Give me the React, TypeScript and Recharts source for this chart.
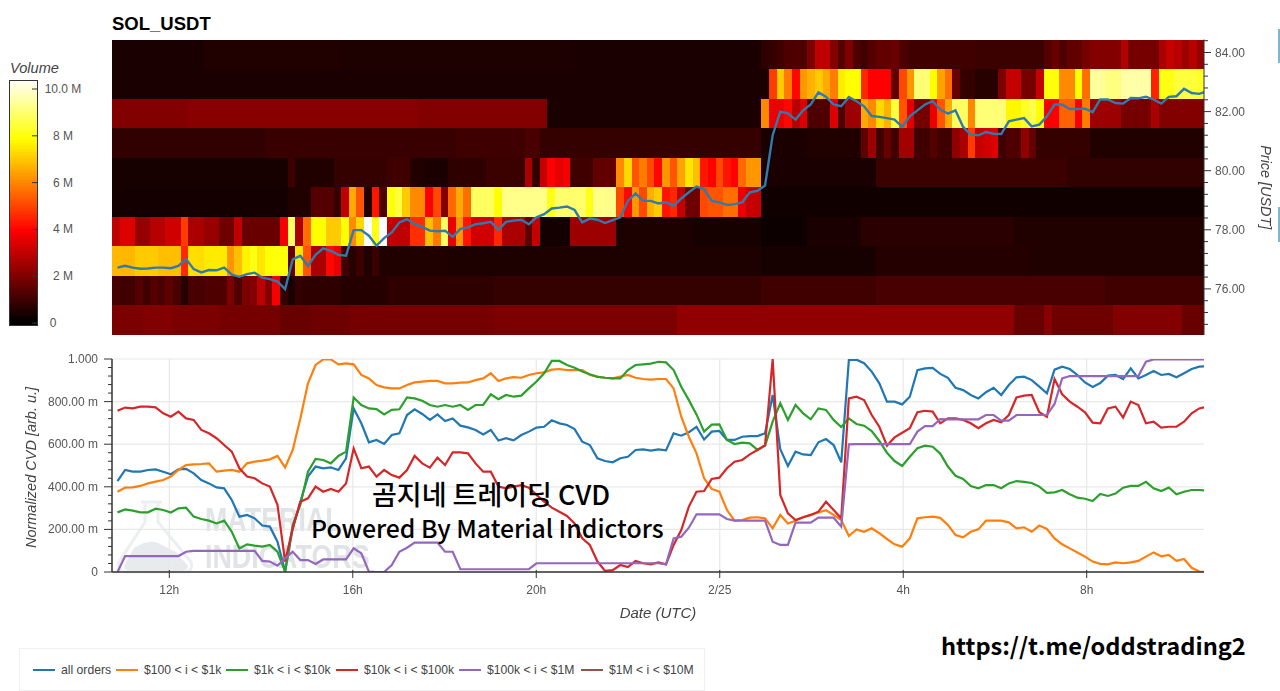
import React from 'react';
import { ComposedChart, Line, XAxis, YAxis, CartesianGrid, ReferenceArea } from 'recharts';

// ---------- time grid (hours from 2/24 00:00) ----------
const xMin = 10.751, xMax = 34.557;
const lineStart = 10.871, lineStep = 0.16608;
const heatStep = 0.16656;
const xTicks = [12, 16, 20, 24, 28, 32];
const xTickLabels = ['12h', '16h', '20h', '2/25', '4h', '8h'];

// ---------- price ----------
const prices = [
  76.72,76.78,76.72,76.68,76.69,76.72,76.72,76.70,76.78,77.01,76.67,76.56,76.64,76.63,76.72,76.48,76.41,76.50,76.55,76.38,76.33,76.25,75.99,77.00,77.12,76.78,77.15,77.37,77.29,77.15,77.12,77.99,77.99,77.80,77.46,77.72,
  77.91,78.25,78.36,78.19,78.10,77.97,77.95,77.97,77.76,78.03,78.08,78.19,78.22,78.27,78.00,78.27,78.31,78.34,78.19,78.42,78.53,78.72,78.75,78.79,78.67,78.25,78.38,78.34,78.23,78.33,78.42,78.98,79.23,78.98,78.98,
  78.89,78.93,78.81,79.06,79.27,79.46,79.38,78.98,78.93,78.84,78.87,78.93,79.27,79.32,79.50,81.20,82.00,81.94,81.73,82.04,82.24,82.65,82.50,82.24,82.18,82.49,82.35,82.18,81.85,81.82,81.78,81.73,81.48,81.84,82.04,82.24,
  82.35,82.07,81.93,82.04,81.48,81.22,81.20,81.31,81.25,81.24,81.67,81.73,81.78,81.50,81.56,81.84,82.24,82.24,82.09,82.09,82.10,81.98,82.41,82.41,82.29,82.27,82.46,82.45,82.50,82.41,82.27,82.50,82.52,82.77,82.63,82.60,82.69,
];
const priceMajor = [76, 78, 80, 82, 84];
const priceTicks = [74.8,75.2,75.6,76,76.4,76.8,77.2,77.6,78,78.4,78.8,79.2,79.6,80,80.4,80.8,81.2,81.6,82,82.4,82.8,83.2,83.6,84,84.4];

// ---------- heat map: price bin lower edges, and per bin [column, volume in M, column, volume, ...] ----------
const binEdges = [74.44,75.44,76.44,77.44,78.44,79.44,80.44,81.44,82.44,83.44,84.44];
const heat0 = [0,1.9,4,2.0,8,1.9,14,1.8,22,1.6,26,1.7,31,1.8,50,1.9,74,2.2,118,1.6,122,2.1,123,1.7,131,2.0,140,1.6];
const heat1 = [0,1.1,1,1.0,3,1.3,4,1.0,5,1.3,6,1.1,7,1.4,8,1.1,9,0.6,10,1.1,12,1.2,15,1.9,16,1.2,17,1.9,18,2.0,19,2.9,20,2.0,21,3.8,22,0.8,23,0.4,24,0.8,25,0.7,30,0.55,36,0.7,50,0.8,85,1.0,100,1.1,130,1.0];
const heat2 = [0,6.7,3,7.0,6,6.8,9,4.5,10,7.3,12,7.5,15,6.2,16,6.8,17,7.6,18,8.0,19,7.4,20,7.8,21,7.9,23,1.5,24,7.4,25,5.2,26,2.6,28,4.0,29,3.6,30,1.0,31,0.6,32,0.9,33,0.5,34,0.9,35,0.5,36,0.5,44,0.45,85,0.35,100,0.55,120,0.5];
const heat3 = [0,2.9,1,3.4,3,2.3,5,2.8,7,3.2,9,4.8,10,2.6,12,2.3,14,1.7,16,2.9,17,1.6,22,3.8,23,8.8,24,2.6,25,5.6,26,7.8,28,7.0,30,7.8,31,6.0,32,7.2,33,10.4,34,8.0,35,10.4,36,3.0,37,2.9,39,4.6,41,6.8,42,5.8,43,8.8,44,3.6,45,6.2,46,4.2,47,3.2,50,4.5,51,2.6,54,1.4,55,3.0,56,0.3,60,2.4,66,0.45,76,0.35,85,0.2,91,0.4,98,0.65,118,0.5];
const heat4 = [0,0.3,23,0.5,26,1.3,29,0.8,30,2.9,31,6.5,32,5.2,33,0.5,34,4.2,35,1.2,36,7.9,37,8.4,38,7.0,39,6.0,41,3.9,42,5.0,43,2.0,44,5.5,45,6.5,46,5.6,47,8.8,50,7.8,51,9.2,57,8.0,58,8.9,62,8.0,63,9.2,66,5.0,67,4.0,68,6.2,69,5.0,70,6.6,71,7.0,72,4.2,73,4.5,74,3.0,75,1.7,77,5.0,78,5.2,80,5.6,82,3.6,83,3.0,85,0.25];
const heat5 = [0,0.35,23,0.9,24,0.5,29,0.8,36,1.0,39,0.5,41,0.4,44,0.7,49,0.9,54,2.6,55,0.8,56,3.0,57,3.9,58,3.5,59,3.8,60,1.0,63,1.5,66,6.0,67,7.2,68,5.2,69,5.8,70,5.0,71,4.0,72,6.2,73,5.2,74,6.4,75,7.4,76,6.8,77,4.2,78,3.9,79,5.0,80,4.2,81,3.9,82,5.5,83,6.2,85,0.4,100,0.9,125,0.75];
const heat6 = [0,0.75,20,0.85,45,0.95,54,1.1,56,0.8,85,0.4,91,0.5,98,1.5,99,2.4,100,1.0,101,1.6,102,1.0,103,2.5,105,1.0,107,1.3,108,1.0,110,2.2,111,2.6,112,4.8,113,3.0,114,3.2,115,3.4,116,1.0,117,1.2,119,2.2,120,1.5,121,0.8,128,0.5];
const heat7 = [0,2.0,10,2.1,40,2.0,57,0.4,85,6.0,86,3.6,88,4.0,89,2.8,90,3.4,91,1.2,94,3.4,95,1.2,96,2.4,98,6.5,99,6.0,100,7.2,101,6.6,102,8.4,103,5.2,104,3.5,105,1.8,107,3.6,108,5.2,109,6.5,110,8.8,112,6.0,113,9.0,117,7.7,119,8.2,120,8.6,121,7.8,122,3.8,123,3.9,124,5.4,126,3.8,127,5.8,128,2.4,132,1.8,136,2.6,137,2.0];
const heat8 = [0,0.4,86,4.8,87,7.0,88,5.8,89,4.0,90,6.2,91,6.6,92,7.0,93,6.5,94,5.8,95,7.5,96,7.8,98,4.5,99,3.9,102,1.5,103,5.0,104,6.2,105,9.0,107,7.8,108,6.4,109,5.6,110,1.6,111,0.8,113,0.6,116,1.9,117,3.0,119,1.8,121,3.0,122,7.9,124,6.0,126,7.8,127,5.6,128,9.4,130,9.1,132,9.5,136,4.4,137,8.0,139,8.4,142,8.2];
const heat9 = [0,0.4,12,0.5,30,0.45,60,0.4,85,0.7,86,0.8,87,1.0,88,1.2,91,1.9,92,2.9,94,2.0,95,1.3,96,1.9,97,1.2,98,1.0,99,1.3,100,1.5,102,1.6,103,1.2,104,1.0,113,0.9,122,1.3,123,1.6,124,1.2,125,1.5,127,1.8,128,2.0,132,2.7,133,1.8,137,2.6,138,3.0,139,2.8,140,2.4,141,2.8,142,2.3];
const heatBins = [heat0, heat1, heat2, heat3, heat4, heat5, heat6, heat7, heat8, heat9];
const heatColumns = 143;

// ---------- colour bar ----------
const barMin = -0.085, barMax = 10.385;
const barTicks = [0, 2, 4, 6, 8, 10];
const barTickLabels = ['0', '2 M', '4 M', '6 M', '8 M', '10.0 M'];
const barSteps = Array.from({ length: 105 }, (_, k) => k / 10);
const barRows = [{ x: 0 }, { x: 1 }];

// ---------- CVD (milli units) ----------
const allOrders = [
  427,479,471,471,479,482,471,459,482,484,463,432,416,397,393,338,260,268,252,218,213,142,2,205,330,448,495,487,491,479,534,768,698,609,620,601,
  643,651,737,764,742,714,740,709,721,687,679,667,646,667,617,628,618,643,659,678,682,712,698,690,671,612,596,534,521,515,534,541,573,576,570,
  576,571,651,640,656,681,622,659,662,620,620,635,638,638,651,831,576,498,565,552,549,609,624,596,515,995,997,980,941,886,800,800,787,823,948,956,
  958,930,912,865,854,831,815,844,865,831,878,914,917,901,870,839,950,964,953,925,890,869,887,922,925,906,956,909,925,944,925,930,914,933,953,964,967,
];
const from100 = [
  377,396,397,404,416,424,432,448,479,502,505,507,510,471,476,479,471,510,518,523,529,545,491,573,721,886,972,998,998,975,979,975,925,909,878,867,
  862,862,878,890,894,897,897,886,886,889,890,901,909,933,897,909,915,912,925,933,937,950,953,948,948,948,925,917,912,909,917,925,912,906,903,
  906,906,862,729,635,557,440,390,377,291,241,244,255,257,252,205,268,228,241,257,268,279,290,268,244,169,200,189,205,182,155,130,119,158,252,257,
  260,254,221,174,163,189,200,241,241,241,233,205,210,189,218,202,158,130,111,92,72,49,38,36,45,41,45,52,72,92,74,80,52,61,20,2,0,
];
const from1k = [
  280,294,288,280,280,297,291,279,299,302,260,249,241,228,241,189,111,130,124,119,127,95,2,221,315,471,531,526,510,545,565,819,784,768,765,740,
  761,764,820,815,804,784,776,784,776,784,761,784,784,834,811,831,823,828,862,894,933,991,991,972,959,941,928,916,912,909,909,948,972,975,978,
  987,984,948,870,807,740,659,692,693,620,601,607,604,573,593,706,792,714,784,745,717,768,761,714,681,721,695,687,662,615,560,521,498,541,581,593,
  588,556,495,452,437,404,393,408,408,393,416,427,423,418,401,372,374,385,365,349,344,333,366,357,368,396,404,404,423,393,380,397,365,377,385,385,382,
];
const from10k = [
  757,772,768,776,776,773,745,729,753,721,714,667,651,628,596,565,487,448,440,416,401,315,49,205,330,346,401,377,390,377,416,580,487,495,448,479,
  455,443,479,545,510,490,537,502,562,562,557,510,471,471,401,393,401,408,396,362,330,302,283,263,228,158,127,49,5,9,33,23,52,41,36,
  45,36,127,197,307,377,380,437,443,487,518,526,552,573,596,1000,362,275,244,257,268,283,330,291,252,815,823,807,737,682,593,632,654,675,750,757,
  753,698,721,721,714,698,675,698,714,703,737,819,828,831,750,729,906,834,800,776,750,701,698,768,776,725,800,784,698,706,678,682,682,706,745,768,776,
];
const from100k = [
  0,75,75,75,75,75,75,75,75,95,99,99,99,99,99,99,99,99,99,52,49,30,64,95,56,56,38,59,59,59,59,111,88,2,0,0,
  33,95,114,138,138,138,138,95,95,13,13,13,13,13,13,13,13,13,13,41,41,41,41,41,41,41,41,41,41,41,41,41,41,41,41,
  41,36,158,166,208,271,271,271,271,249,241,241,241,241,241,142,127,127,232,232,232,255,255,255,213,599,600,600,600,600,600,600,600,600,659,685,
  685,718,717,717,717,717,717,737,737,711,711,737,737,737,737,737,789,909,920,920,920,920,920,920,920,920,920,920,987,998,998,998,998,998,998,998,998,
];
const seriesNames = ['all orders', '$100 < i < $1k', '$1k < i < $10k', '$10k < i < $100k', '$100k < i < $1M', '$1M < i < $10M'];
const seriesColors = ['#1f77b4', '#ff7f0e', '#2ca02c', '#d62728', '#9467bd', '#8c564b'];
const seriesValues = [allOrders, from100, from1k, from10k, from100k];
const cvdMajor = [0, 200, 400, 600, 800, 1000];
const cvdMajorLabels = ['0', '200.00 m', '400.00 m', '600.00 m', '800.00 m', '1.000'];
const cvdTicks = Array.from({ length: 26 }, (_, k) => k * 40);

// ---------- helpers ----------
const FONT = '"Liberation Sans", Arial, sans-serif';
const TEXT = '#555';
const AXIS = '#333';

function hot(v: number) {
  const t = Math.min(Math.max(v / 10.4, 0), 1);
  const c = (x: number) => Math.round(255 * Math.min(Math.max(x, 0), 1));
  return `rgb(${c(t / 0.375)},${c((t - 0.375) / 0.375)},${c((t - 0.75) / 0.25)})`;
}

const lineRows = allOrders.map((_, i) => ({
  t: lineStart + i * lineStep,
  price: prices[i],
  s0: allOrders[i], s1: from100[i], s2: from1k[i], s3: from10k[i], s4: from100k[i],
}));

function heatCells() {
  const out: any[] = [];
  heatBins.forEach((bin, b) => {
    for (let k = 0; k < bin.length; k += 2) {
      const c0 = bin[k];
      const c1 = k + 2 < bin.length ? bin[k + 2] : heatColumns;
      out.push(
        <ReferenceArea
          key={`${b}-${k}`}
          x1={xMin + c0 * heatStep}
          x2={Math.min(xMin + c1 * heatStep, xMax)}
          y1={binEdges[b]}
          y2={binEdges[b + 1]}
          fill={hot(bin[k + 1])}
          fillOpacity={1}
          stroke="none"
          ifOverflow="visible"
        />,
      );
    }
  });
  return out;
}

const PriceTick = (p: any) => {
  const major = priceMajor.includes(p.payload.value);
  return (
    <g>
      <line x1={p.x} x2={p.x + (major ? 7 : 4)} y1={p.y} y2={p.y} stroke={AXIS} />
      {major && (
        <text x={p.x + 11} y={p.y + 4} fontSize={12} fill={TEXT} fontFamily={FONT}>
          {p.payload.value.toFixed(2)}
        </text>
      )}
    </g>
  );
};

const CvdTick = (p: any) => {
  const idx = cvdMajor.indexOf(p.payload.value);
  const major = idx >= 0;
  return (
    <g>
      <line x1={p.x} x2={p.x - (major ? 8 : 4)} y1={p.y} y2={p.y} stroke={AXIS} />
      {major && (
        <text x={p.x - 14} y={p.y + 4} fontSize={12} fill={TEXT} textAnchor="end" fontFamily={FONT}>
          {cvdMajorLabels[idx]}
        </text>
      )}
    </g>
  );
};

const TimeTick = (p: any) => (
  <g>
    <line x1={p.x} x2={p.x} y1={p.y - 2} y2={p.y + 6} stroke={AXIS} />
    <text x={p.x} y={p.y + 22} fontSize={12} fill={TEXT} textAnchor="middle" fontFamily={FONT}>
      {xTickLabels[xTicks.indexOf(p.payload.value)]}
    </text>
  </g>
);

const BarTick = (p: any) => {
  const i = barTicks.indexOf(p.payload.value);
  return (
    <g>
      <line x1={p.x - 5} x2={p.x} y1={p.y} y2={p.y} stroke={AXIS} />
      <text x={i === 0 ? p.x + 16 : p.x + 26} y={p.y + 4} fontSize={12} fill={TEXT} textAnchor="middle" fontFamily={FONT}>
        {barTickLabels[i]}
      </text>
    </g>
  );
};

const abs = (s: React.CSSProperties): React.CSSProperties => ({ position: 'absolute', ...s });

function Watermark() {
  const word = (top: number): React.CSSProperties =>
    abs({ left: 205, top, fontFamily: FONT, fontWeight: 700, fontSize: 34, color: '#e0e4e7', lineHeight: '36px', transform: 'scaleX(0.79)', transformOrigin: 'left center' });
  return (
    <div style={abs({ left: 0, top: 0, width: 1280, height: 691, pointerEvents: 'none' })}>
      <svg width={1280} height={691} style={abs({ left: 0, top: 0 })}>
        <path d="M141 502 H162 M145 502 V522 L119 562 Q116 572 128 572 H183 Q194 572 191 562 L158 522 V502" fill="none" stroke="#eceff1" strokeWidth={3} />
        <path d="M124 566 L134 548 Q150 538 160 544 L176 552 L188 566 Q188 571 180 571 H130 Q124 571 124 566 Z" fill="#e7ebed" />
      </svg>
      <div style={word(501)}>MATERIAL</div>
      <div style={word(538)}>INDICATORS</div>
    </div>
  );
}

function LegendBox() {
  const offsets = [32, 115, 225, 335, 458, 580];
  return (
    <div style={abs({ left: 19, top: 648, width: 686, height: 43, border: '1px solid #f0f0f0', boxSizing: 'border-box' })}>
      {seriesNames.map((name, i) => (
        <React.Fragment key={name}>
          <div style={abs({ left: offsets[i] - 19, top: 20, width: 22, height: 2, background: seriesColors[i] })} />
          <div style={abs({ left: offsets[i] - 19 + 28, top: 14, fontFamily: FONT, fontSize: 12.2, lineHeight: '14px', color: '#444', whiteSpace: 'nowrap' })}>{name}</div>
        </React.Fragment>
      ))}
    </div>
  );
}

export default function App() {
  return (
    <div style={abs({ left: 0, top: 0, width: 1280, height: 691, overflow: 'hidden', background: '#fff', fontFamily: FONT })}>
      <style>{`.recharts-reference-area-rect{shape-rendering:crispEdges}`}</style>
      <Watermark />

      <div style={abs({ left: 112, top: 13, fontSize: 18.5, fontWeight: 700, color: '#000', lineHeight: '21px' })}>SOL_USDT</div>
      <div style={abs({ left: 10, top: 60, fontSize: 14.6, fontStyle: 'italic', color: '#444', lineHeight: '16px' })}>Volume</div>

      {/* colour bar */}
      <div style={abs({ left: 0, top: 70 })}>
        <ComposedChart width={100} height={260} data={barRows} margin={{ top: 10, right: 0, bottom: 5, left: 9 }}>
          <XAxis type="number" dataKey="x" domain={[0, 1]} hide />
          <YAxis
            orientation="right"
            type="number"
            width={63}
            domain={[barMin, barMax]}
            allowDataOverflow
            ticks={barTicks}
            interval={0}
            tickSize={0}
            tickMargin={0}
            tickLine={false}
            axisLine={false}
            tick={BarTick}
          />
          <ReferenceArea x1={0} x2={1} y1={barMin} y2={0.05} fill="#000" fillOpacity={1} stroke="none" ifOverflow="visible" />
          {barSteps.map((v) => (
            <ReferenceArea key={v} x1={0} x2={1} y1={v} y2={Math.min(v + 0.1, barMax)} fill={hot(v)} fillOpacity={1} stroke="none" ifOverflow="visible" />
          ))}
          <ReferenceArea x1={0} x2={1} y1={barMin} y2={barMax} fill="none" stroke={AXIS} strokeWidth={1} ifOverflow="visible" />
        </ComposedChart>
      </div>

      {/* heat map + price */}
      <div style={abs({ left: 0, top: 0, filter: 'blur(0.4px)' })}>
        <ComposedChart width={1280} height={340} data={lineRows} margin={{ top: 39.5, right: 0, bottom: 5, left: 112 }}>
          <XAxis type="number" dataKey="t" domain={[xMin, xMax]} allowDataOverflow hide />
          <YAxis
            orientation="right"
            type="number"
            width={76}
            domain={[binEdges[0], binEdges[10]]}
            allowDataOverflow
            ticks={priceTicks}
            interval={0}
            tickSize={0}
            tickMargin={0}
            tickLine={false}
            axisLine={{ stroke: AXIS }}
            tick={PriceTick}
            label={{ value: 'Price [USDT]', angle: 90, position: 'center', dx: 24, style: { fontSize: 14.4, fontStyle: 'italic', fill: '#444', fontFamily: FONT } }}
          />
          {heatCells()}
          <Line dataKey="price" type="linear" stroke="#2f7bad" strokeWidth={2.4} dot={false} isAnimationActive={false} />
        </ComposedChart>
      </div>

      {/* CVD */}
      <div style={abs({ left: 0, top: 345, filter: 'blur(0.3px)' })}>
        <ComposedChart width={1280} height={287} data={lineRows} margin={{ top: 14, right: 76, bottom: 10, left: 0 }}>
          <CartesianGrid stroke="#e8e8e8" strokeWidth={1.2} horizontalValues={cvdMajor} verticalValues={xTicks} />
          <XAxis
            type="number"
            dataKey="t"
            domain={[xMin, xMax]}
            allowDataOverflow
            ticks={xTicks}
            interval={0}
            height={50}
            tickSize={0}
            tickMargin={0}
            tickLine={false}
            axisLine={{ stroke: AXIS, strokeWidth: 1.5 }}
            tick={TimeTick}
            label={{ value: 'Date (UTC)', position: 'center', dy: 16, style: { fontSize: 15, fontStyle: 'italic', fill: '#444', fontFamily: FONT } }}
          />
          <YAxis
            type="number"
            width={112}
            domain={[0, 1000]}
            allowDataOverflow
            ticks={cvdTicks}
            interval={0}
            tickSize={0}
            tickMargin={0}
            tickLine={false}
            axisLine={{ stroke: AXIS, strokeWidth: 1.5 }}
            tick={CvdTick}
            label={{ value: 'Normalized CVD [arb. u.]', angle: -90, position: 'center', dx: -25, dy: 2, style: { fontSize: 14.5, fontStyle: 'italic', fill: '#444', fontFamily: FONT } }}
          />
          {seriesValues.map((_, i) => (
            <Line key={i} dataKey={`s${i}`} name={seriesNames[i]} type="linear" stroke={seriesColors[i]} strokeWidth={2.2} dot={false} isAnimationActive={false} />
          ))}
        </ComposedChart>
      </div>

      <LegendBox />

      <div style={abs({ left: 372, top: 476, fontFamily: '"Noto Sans CJK KR"', fontWeight: 500, fontSize: 27, color: '#000', lineHeight: '36px', whiteSpace: 'pre' })}>곰지네 트레이딩 CVD</div>
      <div style={abs({ left: 311, top: 509, fontFamily: '"Noto Sans CJK KR"', fontWeight: 500, fontSize: 24.8, color: '#000', lineHeight: '36px', whiteSpace: 'pre' })}>Powered By Material Indictors</div>
      <div style={abs({ left: 941, top: 627, fontFamily: '"Noto Sans CJK KR"', fontWeight: 700, fontSize: 23.6, color: '#000', lineHeight: '36px', whiteSpace: 'pre' })}>https://t.me/oddstrading2</div>

      <div style={abs({ left: 1278, top: 29, width: 2, height: 34, background: '#7fb6cf' })} />
      <div style={abs({ left: 1278, top: 207, width: 2, height: 35, background: '#7fb6cf' })} />
    </div>
  );
}
